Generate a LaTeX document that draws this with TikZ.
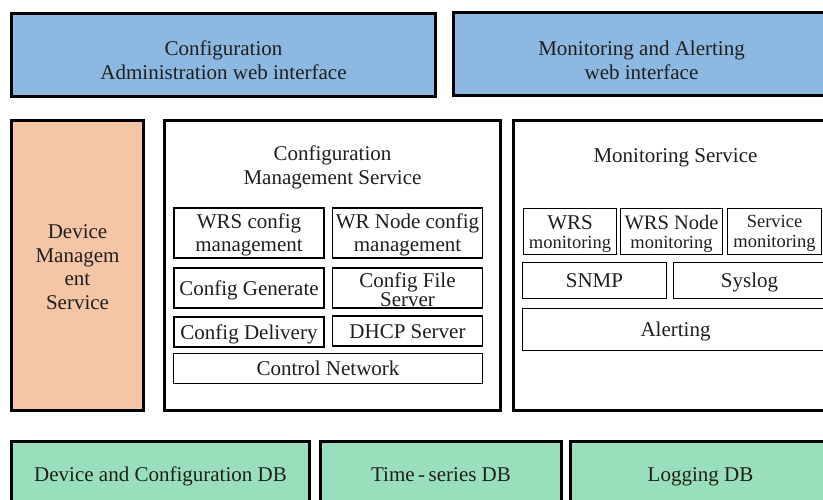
\documentclass[tikz,border=0pt]{standalone}
\usepackage{fontspec}
\setmainfont{Liberation Serif}
\newfontfamily\timesfont{Liberation Serif}
\usetikzlibrary{positioning}
\definecolor{webblue}{RGB}{141,184,226}
\definecolor{devorange}{RGB}{245,198,165}
\definecolor{dbgreen}{RGB}{154,223,187}
\newcommand{\monsize}{\fontsize{18.5}{20}\selectfont}
\tikzset{layer/.style={draw,line width=3pt,inner sep=0pt,align=center},
	 webif/.style={layer,fill=webblue,minimum height=83},
	 devsvc/.style={layer,fill=devorange},
	 svcpanel/.style={layer,fill=white,minimum height=290},
	 dbbox/.style={layer,fill=dbgreen,minimum height=65.5,oneline},
	 part/.style={draw,line width=1.4pt,inner sep=0pt,align=center},
	 oneline/.style={text height=14pt,text depth=0pt},
	 boxtext/.style={align=center,inner sep=0pt},
	 montext/.style={font=\timesfont\monsize}
	 }

\begin{document}
\begin{tikzpicture}[x=1pt,y=-1pt,font=\timesfont\fontsize{21}{23.5}\selectfont,text=black!88]
	\useasboundingbox (0,0) rectangle (823,499);
	\clip (0,0) rectangle (823,499);
	% web interfaces
	\node[webif,minimum width=424] (cfgweb) at (223.5,55) {};
	\node[boxtext] (cfgwebtxt) at ([yshift=-5pt]cfgweb) {Configuration\\Administration web interface};
	\node[webif,minimum width=376] (monweb) at (641.5,54) {};
	\node[boxtext] (monwebtxt) at ([yshift=-6.5pt]monweb) {Monitoring and Alerting\\web interface};
	% services
	\node[devsvc,minimum width=132,minimum height=290] (devsvc) at (77.5,265.5) {};
	\node[boxtext] (devsvctxt) at ([yshift=-1.5pt]devsvc) {Device\\Managem\\ent\\Service};
	\node[svcpanel,minimum width=336] (cms) at (332.5,265.5) {};
	\node[boxtext] (cmstitle) at (332.5,167.5) {Configuration\\Management Service};
	\node[svcpanel,minimum width=324] (ms) at (675.5,265.5) {};
	\node (mstitle) at (675.5,158) {Monitoring Service};
	% configuration management parts
	\node[part,minimum width=150,minimum height=50] (wrscfg) at (249,233) {};
	\node[boxtext] (wrscfgtxt) at ([yshift=-2pt]wrscfg) {WRS config\\management};
	\node[part,minimum width=149.5,minimum height=50] (wrncfg) at (407.5,233) {};
	\node[boxtext] (wrncfgtxt) at ([yshift=-2pt]wrncfg) {WR Node config\\management};
	\node[part,oneline,minimum width=150,minimum height=40] (cfggen) at (249,288) {Config Generate};
	\node[part,minimum width=149.5,minimum height=40] (cfgfile) at (407.5,288) {};
	\node[boxtext] (cfgfiletxt) at ([yshift=-1.5pt]cfgfile) {Config File\\[-4pt]Server};
	\node[part,oneline,minimum width=150,minimum height=30] (cfgdel) at (249,332) {Config Delivery};
	\node[part,oneline,minimum width=149.5,minimum height=30] (dhcp) at (407.5,331) {DHCP Server};
	\node[part,oneline,minimum width=308.5,minimum height=29.5] (ctrlnet) at (328,368.5) {Control Network};
	% monitoring parts
	\node[part,minimum width=92.5,minimum height=45.5] (wrsmon) at (570,231.5) {};
	\node[boxtext] (wrsmontxt) at ([yshift=-2.5pt]wrsmon) {WRS\\[-4pt]{\monsize monitoring}};
	\node[part,minimum width=101.5,minimum height=45.5] (wrnmon) at (671.5,231.5) {};
	\node[boxtext] (wrnmontxt) at ([yshift=-2.5pt]wrnmon) {\fontsize{20.5}{22}\selectfont WRS Node\\[-4pt]{\monsize monitoring}};
	\node[part,minimum width=93.5,minimum height=45.5] (svcmon) at (774.5,231.5) {};
	\node[boxtext,montext] (svcmontxt) at ([yshift=-2pt]svcmon) {Service\\monitoring};
	\node[part,oneline,minimum width=143.5,minimum height=35.5] (snmp) at (594.5,280.5) {SNMP};
	\node[part,oneline,minimum width=151.5,minimum height=35.5] (syslog) at (749.5,280.5) {Syslog};
	\node[part,oneline,minimum width=305.5,minimum height=41.5] (alert) at (675.5,329.5) {Alerting};
	% databases
	\node[dbbox,minimum width=298] (devdb) at (160.5,474) {Device and Configuration DB};
	\node[dbbox,minimum width=241] (tsdb) at (441,474) {Time\,-\,series DB};
	\node[dbbox,minimum width=260] (logdb) at (700.5,474) {Logging DB};
\end{tikzpicture}
\end{document}
